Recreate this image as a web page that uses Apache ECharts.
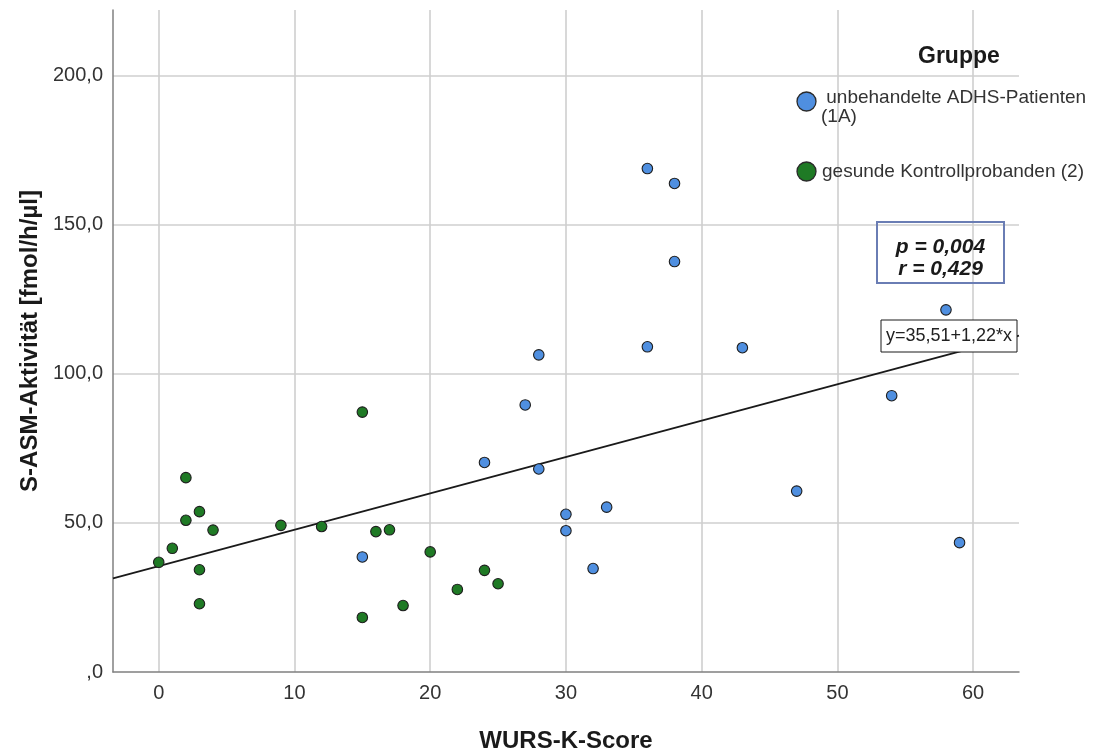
<!DOCTYPE html>
<html>
<head>
<meta charset="utf-8">
<script src="https://cdn.jsdelivr.net/npm/echarts@6/dist/echarts.min.js"></script>
<style>
  html, body { margin: 0; padding: 0; background: #ffffff; }
  #chart { width: 1101px; height: 753px; }
</style>
</head>
<body>
<div id="chart"></div>
<script>
// WURS-K-Score (x) and S-ASM-Aktivität in fmol/h/µl (y), one pair of arrays per group
const patientScore = [15, 24, 27, 28, 28, 30, 30, 32, 33, 36, 36, 38, 38, 43, 47, 54, 58, 59];
const patientAsm   = [38.6, 70.3, 89.6, 106.4, 68.1, 52.9, 47.4, 34.7, 55.3, 168.9, 109.1, 163.9, 137.7, 108.8, 60.7, 92.7, 121.5, 43.4];
const controlScore = [0, 1, 2, 2, 3, 3, 3, 4, 9, 12, 15, 15, 16, 17, 18, 20, 22, 24, 25];
const controlAsm   = [36.8, 41.5, 65.2, 50.9, 53.8, 34.3, 22.9, 47.6, 49.2, 48.8, 87.2, 18.3, 47.1, 47.7, 22.3, 40.3, 27.7, 34.1, 29.6];

const groupTitle = 'Gruppe';
const groupNames = ['unbehandelte ADHS-Patienten (1A)', 'gesunde Kontrollprobanden (2)'];

// linear fit over all subjects
const fitIntercept = 35.51;
const fitSlope = 1.22;
const pValue = '0,004';
const rValue = '0,429';

const xTicks = [0, 10, 20, 30, 40, 50, 60];
const yTicks = [0, 50, 100, 150, 200];

const xName = 'WURS-K-Score';
const yName = 'S-ASM-Aktivität [fmol/h/µl]';

// axis extents
const X_MIN = -3.37, X_MAX = 63.38;
const Y_MIN = 0, Y_MAX = 222.1;

const FONT = '"Liberation Sans", Arial, Helvetica, sans-serif';
const BLUE = '#4f8fe0';
const GREEN = '#1f7a25';

const zip = (xs, ys) => xs.map((x, i) => [x, ys[i]]);
const deNum = (v) => (v === 0 ? ',0' : v.toFixed(1).replace('.', ','));
const fmt = (v) => v.toFixed(2).replace('.', ',');

const fitLine = [X_MIN, X_MAX].map(x => [x, fitIntercept + fitSlope * x]);

const chart = echarts.init(document.getElementById('chart'), null, { renderer: 'canvas' });

const option = {
  backgroundColor: '#ffffff',
  animation: false,
  textStyle: { fontFamily: FONT },
  grid: {
    left: 113, right: 82, top: 10, bottom: 81,
    containLabel: false,
    outerBoundsMode: 'none'
  },
  xAxis: {
    type: 'value',
    min: X_MIN,
    max: X_MAX,
    splitNumber: 7,
    name: xName,
    nameLocation: 'middle',
    nameGap: 57,
    nameTextStyle: { fontFamily: FONT, fontSize: 24, fontWeight: 'bold', color: '#1a1a1a' },
    axisLine: { show: true, onZero: false, lineStyle: { color: '#808080', width: 1.5 } },
    axisTick: { show: false },
    axisLabel: {
      margin: 11,
      fontFamily: FONT,
      fontSize: 20,
      color: '#333333',
      formatter: (v) => (xTicks.includes(v) ? String(v) : '')
    },
    splitLine: {
      show: true,
      showMinLine: false,
      showMaxLine: false,
      lineStyle: { color: '#cfcfcf', width: 1.6 }
    }
  },
  yAxis: {
    type: 'value',
    min: Y_MIN,
    max: Y_MAX,
    interval: 50,
    name: yName,
    nameLocation: 'middle',
    nameGap: 68,
    nameRotate: 90,
    nameTextStyle: { fontFamily: FONT, fontSize: 24, fontWeight: 'bold', color: '#1a1a1a' },
    axisLine: { show: true, onZero: false, lineStyle: { color: '#808080', width: 1.5 } },
    axisTick: { show: false },
    axisLabel: {
      margin: 10,
      fontFamily: FONT,
      fontSize: 20,
      color: '#333333',
      showMaxLabel: false,
      formatter: (v) => (yTicks.includes(v) ? deNum(v) : '')
    },
    splitLine: {
      show: true,
      showMinLine: false,
      showMaxLine: false,
      lineStyle: { color: '#cfcfcf', width: 1.6 }
    }
  },
  series: [
    {
      name: 'Anpassungslinie',
      type: 'line',
      data: fitLine,
      symbol: 'none',
      silent: true,
      z: 2,
      lineStyle: { color: '#1a1a1a', width: 1.8 }
    },
    {
      name: groupNames[0],
      type: 'scatter',
      data: zip(patientScore, patientAsm),
      symbol: 'circle',
      symbolSize: 10.5,
      z: 3,
      itemStyle: { color: BLUE, borderColor: '#1e1e1e', borderWidth: 1.1, opacity: 1 }
    },
    {
      name: groupNames[1],
      type: 'scatter',
      data: zip(controlScore, controlAsm),
      symbol: 'circle',
      symbolSize: 10.5,
      z: 3,
      itemStyle: { color: GREEN, borderColor: '#1e1e1e', borderWidth: 1.1, opacity: 1 }
    }
  ],
  graphic: [
    // legend
    {
      type: 'text', left: 918, top: 45, z: 10,
      style: { text: groupTitle, font: 'bold 23px ' + FONT, fill: '#1a1a1a' }
    },
    {
      type: 'circle', shape: { cx: 806.5, cy: 101.5, r: 9.5 }, z: 10,
      style: { fill: BLUE, stroke: '#2a2a2a', lineWidth: 1.3 }
    },
    {
      type: 'text', x: 821, y: 88.5, z: 10,
      style: {
        text: ' unbehandelte ADHS-Patienten\n(1A)',
        font: '19px ' + FONT, fill: '#333333',
        lineHeight: 19, verticalAlign: 'top', align: 'left'
      }
    },
    {
      type: 'circle', shape: { cx: 806.5, cy: 171.5, r: 9.5 }, z: 10,
      style: { fill: GREEN, stroke: '#2a2a2a', lineWidth: 1.3 }
    },
    {
      type: 'text', x: 822, y: 172, z: 10,
      style: {
        text: groupNames[1],
        font: '19px ' + FONT, fill: '#333333',
        verticalAlign: 'middle', align: 'left'
      }
    },
    // correlation box
    {
      type: 'rect', shape: { x: 877, y: 222, width: 127, height: 61 }, z: 10,
      style: { fill: 'none', stroke: '#6a7db4', lineWidth: 2 }
    },
    {
      type: 'text', x: 940.5, y: 247, z: 11,
      style: {
        text: 'p = ' + pValue,
        font: 'italic bold 21px ' + FONT, fill: '#1a1a1a',
        align: 'center', verticalAlign: 'middle'
      }
    },
    {
      type: 'text', x: 940.5, y: 269, z: 11,
      style: {
        text: 'r = ' + rValue,
        font: 'italic bold 21px ' + FONT, fill: '#1a1a1a',
        align: 'center', verticalAlign: 'middle'
      }
    },
    // fit equation label
    {
      type: 'rect', shape: { x: 881, y: 320, width: 136, height: 32 }, z: 10,
      style: { fill: '#ffffff', stroke: '#1a1a1a', lineWidth: 1 }
    },
    {
      type: 'text', x: 949, y: 336, z: 11,
      style: {
        text: 'y=' + fmt(fitIntercept) + '+' + fmt(fitSlope) + '*x',
        font: '18px ' + FONT, fill: '#222222',
        align: 'center', verticalAlign: 'middle'
      }
    }
  ]
};

chart.setOption(option);
</script>
</body>
</html>
